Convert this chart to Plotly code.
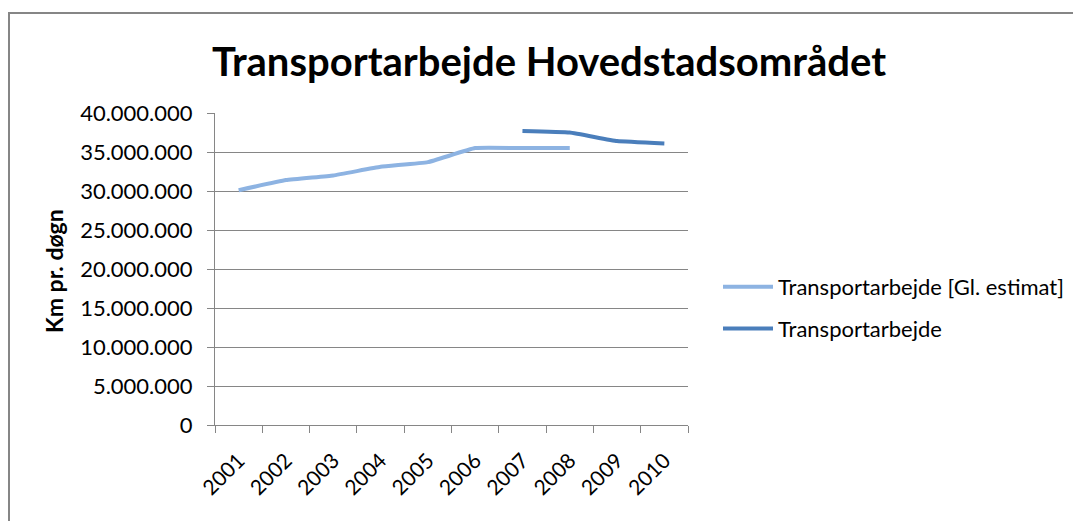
import plotly.graph_objects as go

years = ["2001", "2002", "2003", "2004", "2005", "2006", "2007", "2008", "2009", "2010"]
old_estimate = [30100000, 31400000, 32000000, 33100000, 33700000, 35500000, 35500000, 35500000, None, None]
transport = [None, None, None, None, None, None, 37700000, 37500000, 36400000, 36100000]
series_names = ["Transportarbejde [Gl. estimat]", "Transportarbejde"]
title_text = "Transportarbejde Hovedstadsområdet"
y_title = "Km pr. døgn"

FONT = "Lato"
OFF = 8  # page body margin
W, H = 1081 - OFF, 521 - OFF
L, R, T, B = 215 - OFF, 688 - OFF, 113 - OFF, 425 - OFF

fig = go.Figure()
fig.add_trace(go.Scatter(x=years, y=old_estimate, name=series_names[0], mode="lines",
                         line=dict(color="#8DB3E2", width=4, shape="spline", smoothing=0.3),
                         legendgroup="a"))
fig.add_trace(go.Scatter(x=years, y=transport, name=series_names[1], mode="lines",
                         line=dict(color="#4A7EBB", width=4, shape="spline", smoothing=0.3),
                         legendgroup="b"))

pw = R - L
ph = B - T
fig.update_layout(
    width=W, height=H,
    margin=dict(l=L, r=W - R, t=T, b=H - B, autoexpand=False),
    paper_bgcolor="white", plot_bgcolor="white",
    separators=",.",
    font=dict(family=FONT, size=22, color="#000000"),
    title=dict(text="<b>" + title_text + "</b>", font=dict(family=FONT, size=40, color="#000000"),
               x=(549 - OFF) / W, xanchor="center", xref="container",
               y=1 - (62 - OFF) / H, yanchor="middle"),
    showlegend=True,
    legend=dict(x=(718 - OFF - L) / pw, y=(B - (266 - OFF)) / ph, xanchor="left", yanchor="top",
                font=dict(family=FONT, size=22, color="#000000"),
                traceorder="grouped", tracegroupgap=10, itemwidth=50,
                bgcolor="rgba(0,0,0,0)"),
    xaxis=dict(type="category", tickson="boundaries", ticks="outside", ticklen=7,
               tickcolor="#868686", showline=True, linecolor="#868686", linewidth=1,
               showgrid=False, tickangle=-45, tickfont=dict(family=FONT, size=21),
               ticklabelstandoff=14,
               range=[-0.5, 9.5], fixedrange=True),
    yaxis=dict(range=[0, 40000000], dtick=5000000, tickformat=",d", ticks="outside",
               ticklen=7, tickcolor="#868686", showline=True, linecolor="#868686",
               showgrid=True, gridcolor="#868686", gridwidth=1, zeroline=False,
               ticklabelstandoff=10,
               tickfont=dict(family=FONT, size=22), fixedrange=True),
)

fig.add_annotation(text="<b>" + y_title + "</b>", textangle=-90, xref="paper", yref="paper",
                   x=(54 - OFF - L) / pw, y=(B - (271 - OFF)) / ph, xanchor="center", yanchor="middle",
                   showarrow=False, font=dict(family=FONT, size=23, color="#000000"))

fig.add_shape(type="rect", xref="paper", yref="paper",
              x0=(1 - L) / pw, x1=(W + 20 - L) / pw, y0=(B - (H + 20)) / ph, y1=(B - (13 - OFF)) / ph,
              line=dict(color="#868686", width=2), fillcolor="rgba(0,0,0,0)", layer="below")

fig.write_html("out.html")
